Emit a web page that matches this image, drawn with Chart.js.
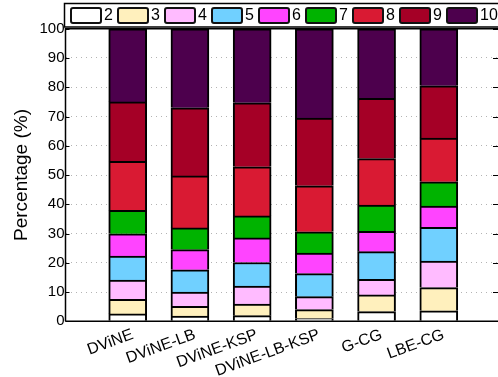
<!DOCTYPE html>
<html>
<head>
<meta charset="utf-8">
<script src="https://cdn.jsdelivr.net/npm/chart.js@4"></script>
<style>
  html, body { margin: 0; padding: 0; overflow: hidden; background: #fff; }
  canvas { display: block; }
</style>
</head>
<body>
<canvas id="chart" width="504" height="377"></canvas>
<script>
// Share of each class (2..10) per method, in percent
const categories = ['DViNE', 'DViNE-LB', 'DViNE-KSP', 'DViNE-LB-KSP', 'G-CG', 'LBE-CG'];
const classLabels = ['2', '3', '4', '5', '6', '7', '8', '9', '10'];
const s2  = [2.5, 1.8, 1.9, 0.9, 3.3, 3.6];
const s3  = [5.0, 3.3, 4.0, 3.1, 5.7, 7.9];
const s4  = [6.6, 4.9, 6.1, 4.4, 5.3, 9.1];
const s5  = [8.2, 7.6, 8.1, 7.9, 9.5, 11.5];
const s6  = [7.6, 6.9, 8.4, 7.0, 6.9, 7.3];
const s7  = [8.0, 7.4, 7.5, 7.3, 9.0, 8.3];
const s8  = [16.8, 17.8, 16.8, 15.7, 15.9, 14.9];
const s9  = [20.3, 23.3, 21.9, 23.2, 20.6, 17.9];
const s10 = [25.0, 27.0, 25.3, 30.5, 23.8, 19.5];
const yTicks = [0, 10, 20, 30, 40, 50, 60, 70, 80, 90, 100];

const series = [s2, s3, s4, s5, s6, s7, s8, s9, s10];
const colors = ['#ffffff', '#fff0bd', '#ffbbff', '#70d0ff', '#ff44ff', '#00b300', '#d91a33', '#a50026', '#4d004d'];

const FONT = '"Liberation Sans", Arial, Helvetica, sans-serif';

// an empty slot on each side keeps the bars away from the frame
const xLabels = [''].concat(categories, ['']);
const pad = arr => [null].concat(arr, [null]);

const datasets = series.map((vals, i) => ({
  label: classLabels[i],
  data: pad(vals),
  backgroundColor: colors[i],
  borderColor: '#000',
  borderWidth: 2,
  borderSkipped: 'start',
  barThickness: 38
}));

// frame, inward ticks and the boxed legend on top
const decorations = {
  id: 'decorations',
  afterDraw(chart) {
    const { ctx, chartArea: a, scales: { y } } = chart;
    ctx.save();
    ctx.strokeStyle = '#000';
    ctx.lineWidth = 1.5;
    ctx.beginPath();
    ctx.moveTo(a.left, a.bottom); ctx.lineTo(a.left, a.top); ctx.lineTo(a.right, a.top);
    ctx.moveTo(a.left, a.bottom); ctx.lineTo(a.right, a.bottom);
    ctx.moveTo(a.right, a.top); ctx.lineTo(a.right, a.bottom);
    ctx.stroke();
    ctx.lineWidth = 1.2;
    ctx.beginPath();
    yTicks.forEach(v => {
      const py = Math.round(y.getPixelForValue(v)) + 0.5;
      ctx.moveTo(a.left, py); ctx.lineTo(a.left + 4, py);
      ctx.moveTo(a.right - 8, py); ctx.lineTo(a.right, py);
    });
    ctx.stroke();

    // legend
    const top = 3.5, bottom = 27;
    ctx.lineWidth = 1.5;
    ctx.strokeRect(a.left - 1, top, chart.width, bottom - top);
    ctx.font = '16px ' + FONT;
    ctx.textBaseline = 'middle';
    ctx.textAlign = 'left';
    chart.data.datasets.forEach((ds, i) => {
      const x = 71 + 47 * i;
      ctx.beginPath();
      ctx.roundRect(x, 8, 30, 15, 2);
      ctx.fillStyle = ds.backgroundColor;
      ctx.fill();
      ctx.lineWidth = 2;
      ctx.strokeStyle = '#111';
      ctx.stroke();
      ctx.fillStyle = '#000';
      ctx.fillText(ds.label, x + 33, 16);
    });
    ctx.restore();
  }
};

new Chart(document.getElementById('chart'), {
  type: 'bar',
  data: { labels: xLabels, datasets },
  options: {
    responsive: false,
    devicePixelRatio: 1,
    animation: false,
    layout: { padding: { top: 28.75, right: 3, left: 0, bottom: 0 } },
    plugins: { legend: { display: false }, tooltip: { enabled: false } },
    scales: {
      x: {
        stacked: true,
        offset: false,
        grid: { display: false, drawTicks: false },
        border: { display: false },
        ticks: {
          autoSkip: false,
          minRotation: 20,
          maxRotation: 20,
          padding: 4,
          labelOffset: 5,
          color: '#000',
          font: { family: FONT, size: 16 }
        },
        afterFit(s) { s.height = 55.75; s.paddingLeft = 0; s.paddingRight = 0; }
      },
      y: {
        stacked: true,
        min: 0,
        max: 100,
        afterBuildTicks(s) { s.ticks = yTicks.map(v => ({ value: v })); },
        grid: {
          drawTicks: false,
          lineWidth: 1,
          color: ctx => (ctx.tick && (ctx.tick.value === 0 || ctx.tick.value === 100)) ? 'rgba(0,0,0,0)' : '#b4b4b4'
        },
        border: { display: false, dash: [1, 4] },
        ticks: {
          padding: 1,
          color: '#000',
          font: { family: FONT, size: 15 }
        },
        title: {
          display: true,
          text: 'Percentage (%)',
          color: '#000',
          padding: { top: 10, bottom: 0 },
          font: { family: FONT, size: 19 }
        },
        afterFit(s) { s.width = 65.5; s.paddingTop = 0; s.paddingBottom = 0; }
      }
    }
  },
  plugins: [decorations]
});
</script>
</body>
</html>
